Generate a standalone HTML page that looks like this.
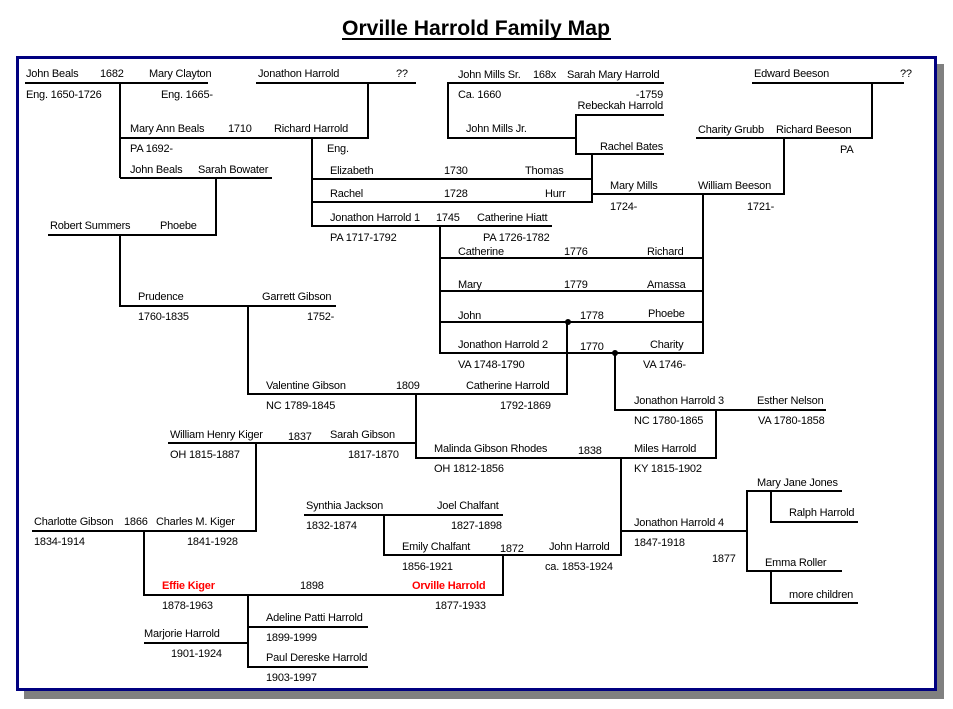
<!DOCTYPE html>
<html><head><meta charset="utf-8"><style>
html,body{margin:0;padding:0;background:#fff;}
svg{display:block;}
text{font-family:"Liberation Sans",Arial,sans-serif;font-size:11px;fill:#000;letter-spacing:-0.2px;}
.t{font-size:21px;font-weight:bold;letter-spacing:0;}
.r{fill:#ff0000;font-weight:bold;}
.e{text-anchor:end;}
line,polyline{stroke:#000;stroke-width:2;fill:none;}
</style></head><body>
<svg width="953" height="709" viewBox="0 0 953 709" xmlns="http://www.w3.org/2000/svg">
<rect x="0" y="0" width="953" height="709" fill="#fff"/>
<text class="t" x="342" y="35" textLength="268" lengthAdjust="spacingAndGlyphs">Orville Harrold Family Map</text>
<line x1="342" y1="39" x2="611" y2="39" style="stroke-width:2"/>
<!-- shadow -->
<rect x="937" y="64" width="7" height="635" fill="#808080"/>
<rect x="24" y="691" width="920" height="8" fill="#808080"/>
<rect x="17.5" y="57.5" width="918" height="632" fill="#fff" stroke="#000080" stroke-width="3"/>

<g>
<!-- top left -->
<line x1="25" y1="83" x2="208" y2="83"/>
<line x1="256" y1="83" x2="416" y2="83"/>
<polyline points="120,83 120,178"/>
<line x1="120" y1="138" x2="369" y2="138"/>
<line x1="368" y1="83" x2="368" y2="139"/>
<line x1="120" y1="178" x2="272" y2="178"/>
<line x1="216" y1="178" x2="216" y2="236"/>
<line x1="48" y1="235" x2="217" y2="235"/>
<line x1="120" y1="235" x2="120" y2="307"/>
<line x1="119" y1="306" x2="336" y2="306"/>
<line x1="248" y1="306" x2="248" y2="395"/>
<!-- Richard Harrold -->
<line x1="312" y1="138" x2="312" y2="227"/>
<line x1="311" y1="179" x2="593" y2="179"/>
<line x1="311" y1="202" x2="593" y2="202"/>
<line x1="311" y1="226" x2="552" y2="226"/>
<line x1="592" y1="154" x2="592" y2="203"/>
<!-- Mills -->
<line x1="448" y1="83" x2="664" y2="83"/>
<line x1="448" y1="82" x2="448" y2="139"/>
<line x1="447" y1="138" x2="577" y2="138"/>
<line x1="576" y1="114" x2="576" y2="155"/>
<line x1="575" y1="115" x2="664" y2="115"/>
<line x1="575" y1="154" x2="664" y2="154"/>
<!-- Beeson -->
<line x1="752" y1="83" x2="904" y2="83"/>
<line x1="872" y1="82" x2="872" y2="139"/>
<line x1="696" y1="138" x2="873" y2="138"/>
<line x1="784" y1="138" x2="784" y2="195"/>
<line x1="591" y1="194" x2="785" y2="194"/>
<line x1="703" y1="194" x2="703" y2="354"/>
<!-- JH1 children -->
<line x1="440" y1="226" x2="440" y2="354"/>
<line x1="439" y1="258" x2="704" y2="258"/>
<line x1="439" y1="291" x2="704" y2="291"/>
<line x1="439" y1="322" x2="704" y2="322"/>
<line x1="439" y1="353" x2="704" y2="353"/>
<circle cx="568" cy="322" r="3"/>
<circle cx="615" cy="353" r="3"/>
<line x1="567" y1="322" x2="567" y2="395"/>
<line x1="247" y1="394" x2="568" y2="394"/>
<line x1="615" y1="353" x2="615" y2="411"/>
<line x1="614" y1="410" x2="826" y2="410"/>
<line x1="716" y1="410" x2="716" y2="459"/>
<line x1="416" y1="394" x2="416" y2="459"/>
<line x1="415" y1="458" x2="717" y2="458"/>
<!-- Kiger -->
<line x1="168" y1="443" x2="417" y2="443"/>
<line x1="256" y1="443" x2="256" y2="532"/>
<line x1="32" y1="531" x2="257" y2="531"/>
<line x1="144" y1="531" x2="144" y2="596"/>
<line x1="143" y1="595" x2="504" y2="595"/>
<!-- Chalfant -->
<line x1="304" y1="515" x2="503" y2="515"/>
<line x1="384" y1="515" x2="384" y2="556"/>
<line x1="383" y1="555" x2="622" y2="555"/>
<line x1="621" y1="458" x2="621" y2="556"/>
<line x1="503" y1="555" x2="503" y2="596"/>
<!-- JH4 -->
<line x1="620" y1="531" x2="748" y2="531"/>
<line x1="747" y1="490" x2="747" y2="572"/>
<line x1="746" y1="491" x2="842" y2="491"/>
<line x1="771" y1="491" x2="771" y2="523"/>
<line x1="770" y1="522" x2="858" y2="522"/>
<line x1="746" y1="571" x2="842" y2="571"/>
<line x1="771" y1="571" x2="771" y2="604"/>
<line x1="770" y1="603" x2="858" y2="603"/>
<!-- Effie children -->
<line x1="248" y1="595" x2="248" y2="668"/>
<line x1="144" y1="643" x2="249" y2="643"/>
<line x1="247" y1="627" x2="368" y2="627"/>
<line x1="247" y1="667" x2="368" y2="667"/>
</g>

<g>
<text x="26" y="77">John Beals</text><text x="100" y="77">1682</text><text x="149" y="77">Mary Clayton</text>
<text x="26" y="98">Eng. 1650-1726</text><text x="161" y="98">Eng. 1665-</text>
<text x="258" y="77">Jonathon Harrold</text><text x="396" y="77">??</text>
<text x="458" y="78">John Mills Sr.</text><text x="533" y="78">168x</text><text x="567" y="78">Sarah Mary Harrold</text>
<text x="458" y="98">Ca. 1660</text><text class="e" x="663" y="98">-1759</text>
<text class="e" x="663" y="109">Rebeckah Harrold</text>
<text x="466" y="132">John Mills Jr.</text>
<text class="e" x="663" y="150">Rachel Bates</text>
<text x="754" y="77">Edward Beeson</text><text x="900" y="77">??</text>
<text x="698" y="133">Charity Grubb</text><text x="776" y="133">Richard Beeson</text>
<text x="840" y="153">PA</text>
<text x="130" y="132">Mary Ann Beals</text><text x="228" y="132">1710</text><text x="274" y="132">Richard Harrold</text>
<text x="130" y="152">PA 1692-</text><text x="327" y="152">Eng.</text>
<text x="130" y="173">John Beals</text><text x="198" y="173">Sarah Bowater</text>
<text x="330" y="174">Elizabeth</text><text x="444" y="174">1730</text><text x="525" y="174">Thomas</text>
<text x="330" y="197">Rachel</text><text x="444" y="197">1728</text><text x="545" y="197">Hurr</text>
<text x="610" y="189">Mary Mills</text><text x="698" y="189">William Beeson</text>
<text x="610" y="210">1724-</text><text x="747" y="210">1721-</text>
<text x="330" y="221">Jonathon Harrold 1</text><text x="436" y="221">1745</text><text x="477" y="221">Catherine Hiatt</text>
<text x="330" y="241">PA 1717-1792</text><text x="483" y="241">PA 1726-1782</text>
<text x="50" y="229">Robert Summers</text><text x="160" y="229">Phoebe</text>
<text x="458" y="255">Catherine</text><text x="564" y="255">1776</text><text x="647" y="255">Richard</text>
<text x="458" y="288">Mary</text><text x="564" y="288">1779</text><text x="647" y="288">Amassa</text>
<text x="458" y="319">John</text><text x="580" y="319">1778</text><text x="648" y="317">Phoebe</text>
<text x="458" y="348">Jonathon Harrold 2</text><text x="580" y="350">1770</text><text x="650" y="348">Charity</text>
<text x="458" y="368">VA 1748-1790</text><text x="643" y="368">VA 1746-</text>
<text x="138" y="300">Prudence</text><text x="262" y="300">Garrett Gibson</text>
<text x="138" y="320">1760-1835</text><text x="307" y="320">1752-</text>
<text x="266" y="389">Valentine Gibson</text><text x="396" y="389">1809</text><text x="466" y="389">Catherine Harrold</text>
<text x="266" y="409">NC 1789-1845</text><text x="500" y="409">1792-1869</text>
<text x="634" y="404">Jonathon Harrold 3</text><text x="757" y="404">Esther Nelson</text>
<text x="634" y="424">NC 1780-1865</text><text x="758" y="424">VA 1780-1858</text>
<text x="170" y="438">William Henry Kiger</text><text x="288" y="440">1837</text><text x="330" y="438">Sarah Gibson</text>
<text x="170" y="458">OH 1815-1887</text><text x="348" y="458">1817-1870</text>
<text x="434" y="452">Malinda Gibson Rhodes</text><text x="578" y="454">1838</text><text x="634" y="452">Miles Harrold</text>
<text x="434" y="472">OH 1812-1856</text><text x="634" y="472">KY 1815-1902</text>
<text x="757" y="486">Mary Jane Jones</text>
<text x="789" y="516">Ralph Harrold</text>
<text x="634" y="526">Jonathon Harrold 4</text>
<text x="634" y="546">1847-1918</text>
<text x="712" y="562">1877</text>
<text x="765" y="566">Emma Roller</text>
<text x="789" y="598">more children</text>
<text x="306" y="509">Synthia Jackson</text><text x="437" y="509">Joel Chalfant</text>
<text x="306" y="529">1832-1874</text><text x="451" y="529">1827-1898</text>
<text x="402" y="550">Emily Chalfant</text><text x="500" y="552">1872</text><text x="549" y="550">John Harrold</text>
<text x="402" y="570">1856-1921</text><text x="545" y="570">ca. 1853-1924</text>
<text x="34" y="525">Charlotte Gibson</text><text x="124" y="525">1866</text><text x="156" y="525">Charles M. Kiger</text>
<text x="34" y="545">1834-1914</text><text x="187" y="545">1841-1928</text>
<text class="r" x="162" y="589">Effie Kiger</text><text x="300" y="589">1898</text><text class="r" x="412" y="589">Orville Harrold</text>
<text x="162" y="609">1878-1963</text><text x="435" y="609">1877-1933</text>
<text x="266" y="621">Adeline Patti Harrold</text>
<text x="266" y="641">1899-1999</text>
<text x="144" y="637">Marjorie Harrold</text>
<text x="171" y="657">1901-1924</text>
<text x="266" y="661">Paul Dereske Harrold</text>
<text x="266" y="681">1903-1997</text>
</g>
</svg>
</body></html>
